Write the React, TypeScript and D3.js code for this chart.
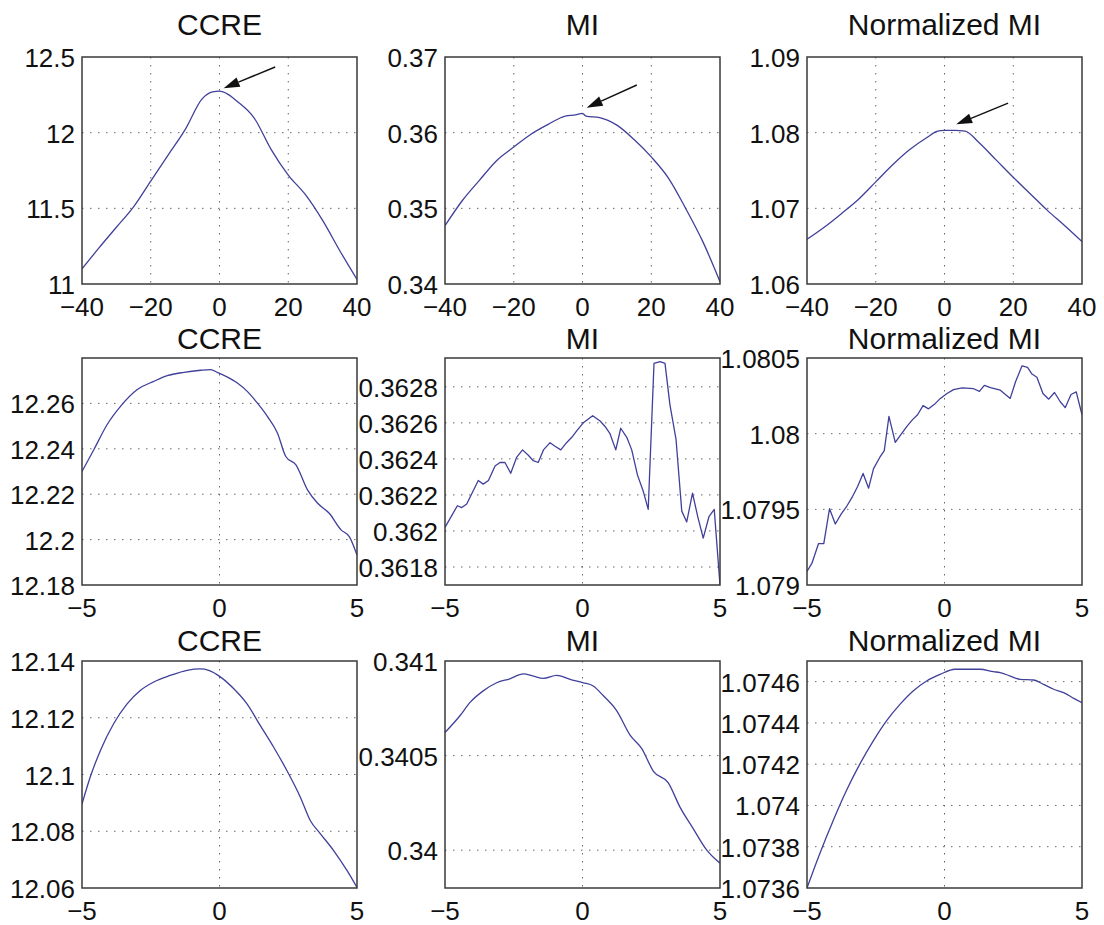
import React from "react";
import * as d3 from "d3";

type Pt = [number, number];

// ---- row 1: wide search range (-40..40)
const wideXTicks = ["−40", "−20", "0", "20", "40"];

const ccreWide: Pt[] = [
  [-40, 11.1], [-35, 11.24], [-30, 11.375], [-25, 11.51], [-20, 11.68],
  [-15, 11.85], [-10, 12.02], [-5, 12.225], [-2, 12.27], [0, 12.275],
  [2, 12.26], [5, 12.21], [10, 12.1], [15, 11.89], [20, 11.72],
  [25, 11.59], [30, 11.42], [35, 11.22], [40, 11.03],
];
const miWide: Pt[] = [
  [-40, 0.3477], [-35, 0.351], [-30, 0.3537], [-25, 0.3563], [-20, 0.3581],
  [-15, 0.3598], [-10, 0.3611], [-5, 0.3622], [-2, 0.36235], [0, 0.36255],
  [1, 0.3622], [5, 0.362], [10, 0.361], [15, 0.3591], [20, 0.3568],
  [25, 0.354], [30, 0.35], [35, 0.3456], [40, 0.3403],
];
const nmiWide: Pt[] = [
  [-40, 1.0659], [-35, 1.0675], [-30, 1.0693], [-25, 1.0712], [-20, 1.0735],
  [-15, 1.0758], [-10, 1.0778], [-5, 1.0794], [-2, 1.0802], [0, 1.0803],
  [3, 1.0803], [6, 1.0802], [10, 1.0787], [15, 1.0764], [20, 1.0741],
  [25, 1.0719], [30, 1.0697], [35, 1.0677], [40, 1.0656],
];

// ---- rows 2 and 3: fine search range (-5..5)
const fineXTicks = ["−5", "0", "5"];

const ccreFineA: Pt[] = [
  [-5, 12.23], [-4.57, 12.2396], [-4.09, 12.2506], [-3.6, 12.2587], [-3.0, 12.266],
  [-2.39, 12.2697], [-1.9, 12.2722], [-1.29, 12.2737], [-0.69, 12.2746], [-0.32, 12.2749],
  [-0.08, 12.2737], [0.29, 12.2716], [0.65, 12.269], [1.01, 12.2653], [1.38, 12.2601],
  [1.74, 12.2543], [2.11, 12.2469], [2.41, 12.2366], [2.78, 12.2329], [3.2, 12.2219],
  [3.57, 12.216], [3.99, 12.2116], [4.42, 12.2043], [4.72, 12.2013], [5, 12.1932],
];
const miFineA: Pt[] = [
  [-5, 0.36202], [-4.55, 0.36214], [-4.39, 0.36213], [-4.21, 0.36215], [-3.79, 0.36228],
  [-3.61, 0.36226], [-3.42, 0.36228], [-3.18, 0.36236], [-3.0, 0.36238], [-2.82, 0.36238],
  [-2.61, 0.36232], [-2.39, 0.36241], [-2.18, 0.36245], [-1.97, 0.36242], [-1.79, 0.36239],
  [-1.61, 0.36238], [-1.42, 0.36245], [-1.18, 0.36249], [-1.0, 0.36247], [-0.79, 0.36245],
  [-0.58, 0.36249], [-0.39, 0.36252], [-0.19, 0.36256], [0.03, 0.3626], [0.37, 0.36264],
  [0.64, 0.36261], [0.82, 0.36258], [1.0, 0.36254], [1.21, 0.36245], [1.39, 0.36257],
  [1.61, 0.36252], [1.79, 0.36245], [2.0, 0.36231], [2.21, 0.36222], [2.39, 0.36212],
  [2.6, 0.36293], [2.82, 0.36294], [3.0, 0.36293], [3.18, 0.3627], [3.4, 0.36251],
  [3.61, 0.36211], [3.79, 0.36205], [4.0, 0.36221], [4.19, 0.36208], [4.39, 0.36196],
  [4.6, 0.36208], [4.79, 0.36212], [5.0, 0.3617],
];
const nmiFineA: Pt[] = [
  [-5, 1.07909], [-4.82, 1.079144], [-4.58, 1.079274], [-4.39, 1.079274], [-4.18, 1.079504],
  [-3.97, 1.079403], [-3.76, 1.079468], [-3.55, 1.079522], [-3.34, 1.079586], [-3.16, 1.079651],
  [-2.96, 1.079737], [-2.76, 1.07964], [-2.58, 1.079769], [-2.36, 1.079841], [-2.19, 1.079888],
  [-2.02, 1.080114], [-1.79, 1.079942], [-1.58, 1.079996], [-1.36, 1.08005], [-1.16, 1.080093],
  [-0.98, 1.080125], [-0.78, 1.080185], [-0.58, 1.080164], [-0.33, 1.0802], [-0.15, 1.080233],
  [0.09, 1.080265], [0.33, 1.080291], [0.64, 1.080302], [1.06, 1.080297], [1.27, 1.08028],
  [1.45, 1.080319], [1.67, 1.080304], [2.03, 1.080287], [2.39, 1.080233], [2.58, 1.080341],
  [2.82, 1.080448], [3.02, 1.080438], [3.18, 1.080394], [3.36, 1.080373], [3.58, 1.080265],
  [3.79, 1.080228], [4.0, 1.080272], [4.21, 1.080211], [4.39, 1.080172], [4.6, 1.080259],
  [4.79, 1.080276], [5.0, 1.080125],
];

const ccreFineB: Pt[] = [
  [-5, 12.0896], [-4.7, 12.0991], [-4.33, 12.1085], [-3.85, 12.1179], [-3.36, 12.1249],
  [-2.88, 12.1296], [-2.39, 12.1326], [-1.79, 12.1349], [-1.18, 12.1367], [-0.7, 12.1372],
  [-0.39, 12.1367], [0.03, 12.1344], [0.52, 12.1302], [1.0, 12.1249], [1.48, 12.1173],
  [1.97, 12.1096], [2.45, 12.1014], [2.94, 12.092], [3.3, 12.0838], [3.67, 12.0791],
  [4.15, 12.0732], [4.64, 12.0661], [5, 12.0602],
];
const miFineB: Pt[] = [
  [-5, 0.340622], [-4.45, 0.340712], [-4.09, 0.340781], [-3.61, 0.340842], [-3.12, 0.340885],
  [-2.64, 0.340906], [-2.15, 0.340932], [-1.79, 0.34092], [-1.42, 0.340908], [-0.94, 0.340924],
  [-0.45, 0.340903], [0.03, 0.340885], [0.39, 0.340868], [0.76, 0.340816], [1.24, 0.340738],
  [1.73, 0.340608], [2.15, 0.340538], [2.58, 0.340417], [3.12, 0.340356], [3.55, 0.340226],
  [4.03, 0.340113], [4.52, 0.34], [5, 0.339931],
];
const nmiFineB: Pt[] = [
  [-5, 1.0736], [-4.54, 1.073765], [-4.05, 1.073926], [-3.57, 1.074071], [-3.08, 1.0742],
  [-2.59, 1.074313], [-2.11, 1.07441], [-1.62, 1.07449], [-1.14, 1.074555], [-0.65, 1.074603],
  [-0.16, 1.074635], [0.38, 1.07466], [0.81, 1.07466], [1.29, 1.07466], [1.78, 1.074648],
  [2.02, 1.074644], [2.39, 1.074627], [2.75, 1.074611], [3.24, 1.074608], [3.6, 1.074587],
  [3.97, 1.074563], [4.33, 1.074547], [4.7, 1.074519], [5, 1.074498],
];

// arrows (tail, head) in data units, first row only
const ccreArrow: [Pt, Pt] = [[16.2, 12.434], [1.2, 12.294]];
const miArrow: [Pt, Pt] = [[15.8, 0.3663], [1.2, 0.3633]];
const nmiArrow: [Pt, Pt] = [[18.5, 1.0839], [3.4, 1.0811]];

const W = 1104;
const H = 925;
const colLeft = [82, 445, 807];
const rowTop = [57, 358, 661];
const titleBase = [35, 349, 651];
const boxW = 275;
const boxH = 227;
const lineColor = "#40409a";
const font = "'Liberation Sans', Arial, Helvetica, sans-serif";

const num = (s: string) => +s.replace("−", "-");

interface PanelProps {
  col: number;
  row: number;
  title: string;
  data: Pt[];
  xDomain: [number, number];
  yDomain: [number, number];
  xTicks: string[];
  yTicks: string[];
  arrow?: [Pt, Pt];
  smooth?: boolean;
}

function Panel({ col, row, title, data, xDomain, yDomain, xTicks, yTicks, arrow, smooth }: PanelProps) {
  const left = colLeft[col];
  const top = rowTop[row];
  const x = d3.scaleLinear().domain(xDomain).range([left, left + boxW]);
  const y = d3.scaleLinear().domain(yDomain).range([top + boxH, top]);

  const line = d3
    .line<Pt>()
    .x((d) => x(d[0]))
    .y((d) => y(d[1]))
    .curve(smooth ? d3.curveMonotoneX : d3.curveLinear);

  let arrowEl = null;
  if (arrow) {
    const [t, h] = arrow;
    const tx = x(t[0]), ty = y(t[1]);
    const hx = x(h[0]), hy = y(h[1]);
    const len = Math.hypot(tx - hx, ty - hy);
    const ux = (tx - hx) / len, uy = (ty - hy) / len;
    const headLen = 16, headW = 5;
    const bx = hx + ux * headLen, by = hy + uy * headLen;
    const pts = [
      [hx, hy],
      [bx - uy * headW, by + ux * headW],
      [bx + uy * headW, by - ux * headW],
    ];
    arrowEl = (
      <g>
        <line x1={tx} y1={ty} x2={bx} y2={by} stroke="#111" strokeWidth={1.4} />
        <polygon points={pts.map((p) => p.join(",")).join(" ")} fill="#111" />
      </g>
    );
  }

  const clipId = `clip-${row}-${col}`;

  return (
    <g>
      <defs>
        <clipPath id={clipId}>
          <rect x={left} y={top} width={boxW} height={boxH} />
        </clipPath>
      </defs>
      <rect x={left} y={top} width={boxW} height={boxH} fill="#fff" />
      {/* dotted grid */}
      <g stroke="#666" strokeWidth={1} strokeDasharray="1.5,6.5">
        {xTicks.map((s) => {
          const v = num(s);
          if (v === xDomain[0] || v === xDomain[1]) return null;
          return <line key={"gx" + s} x1={x(v)} x2={x(v)} y1={top} y2={top + boxH} />;
        })}
        {yTicks.map((s) => {
          const v = num(s);
          if (Math.abs(y(v) - top) < 1 || Math.abs(y(v) - top - boxH) < 1) return null;
          return <line key={"gy" + s} x1={left} x2={left + boxW} y1={y(v)} y2={y(v)} />;
        })}
      </g>
      <path
        d={line(data) ?? ""}
        fill="none"
        stroke={lineColor}
        strokeWidth={1.3}
        strokeLinejoin="round"
        clipPath={`url(#${clipId})`}
      />
      {arrowEl}
      <rect x={left} y={top} width={boxW} height={boxH} fill="none" stroke="#3a3a3a" strokeWidth={1.5} />
      <g fontFamily={font} fontSize={26} fill="#111">
        {xTicks.map((s) => (
          <text key={"tx" + s} x={x(num(s))} y={top + boxH + 32} textAnchor="middle">
            {s}
          </text>
        ))}
        {yTicks.map((s) => (
          <text key={"ty" + s} x={left - 7} y={y(num(s)) + 10} textAnchor="end">
            {s}
          </text>
        ))}
      </g>
      <text
        x={left + boxW / 2}
        y={titleBase[row]}
        textAnchor="middle"
        fontFamily={font}
        fontSize={30}
        fill="#111"
      >
        {title}
      </text>
    </g>
  );
}

export default function App() {
  return (
    <svg
      width={W}
      height={H}
      style={{ position: "absolute", left: 0, top: 0, background: "#fff" }}
    >
      <Panel col={0} row={0} title="CCRE" data={ccreWide} xDomain={[-40, 40]} yDomain={[11, 12.5]}
        xTicks={wideXTicks} yTicks={["11", "11.5", "12", "12.5"]} arrow={ccreArrow} smooth />
      <Panel col={1} row={0} title="MI" data={miWide} xDomain={[-40, 40]} yDomain={[0.34, 0.37]}
        xTicks={wideXTicks} yTicks={["0.34", "0.35", "0.36", "0.37"]} arrow={miArrow} smooth />
      <Panel col={2} row={0} title="Normalized MI" data={nmiWide} xDomain={[-40, 40]} yDomain={[1.06, 1.09]}
        xTicks={wideXTicks} yTicks={["1.06", "1.07", "1.08", "1.09"]} arrow={nmiArrow} smooth />

      <Panel col={0} row={1} title="CCRE" data={ccreFineA} xDomain={[-5, 5]} yDomain={[12.18, 12.28]}
        xTicks={fineXTicks} yTicks={["12.18", "12.2", "12.22", "12.24", "12.26"]} smooth />
      <Panel col={1} row={1} title="MI" data={miFineA} xDomain={[-5, 5]} yDomain={[0.3617, 0.36296]}
        xTicks={fineXTicks} yTicks={["0.3618", "0.362", "0.3622", "0.3624", "0.3626", "0.3628"]} />
      <Panel col={2} row={1} title="Normalized MI" data={nmiFineA} xDomain={[-5, 5]} yDomain={[1.079, 1.0805]}
        xTicks={fineXTicks} yTicks={["1.079", "1.0795", "1.08", "1.0805"]} />

      <Panel col={0} row={2} title="CCRE" data={ccreFineB} xDomain={[-5, 5]} yDomain={[12.06, 12.14]}
        xTicks={fineXTicks} yTicks={["12.06", "12.08", "12.1", "12.12", "12.14"]} smooth />
      <Panel col={1} row={2} title="MI" data={miFineB} xDomain={[-5, 5]} yDomain={[0.3398, 0.341]}
        xTicks={fineXTicks} yTicks={["0.34", "0.3405", "0.341"]} smooth />
      <Panel col={2} row={2} title="Normalized MI" data={nmiFineB} xDomain={[-5, 5]} yDomain={[1.0736, 1.0747]}
        xTicks={fineXTicks} yTicks={["1.0736", "1.0738", "1.074", "1.0742", "1.0744", "1.0746"]} smooth />
    </svg>
  );
}
